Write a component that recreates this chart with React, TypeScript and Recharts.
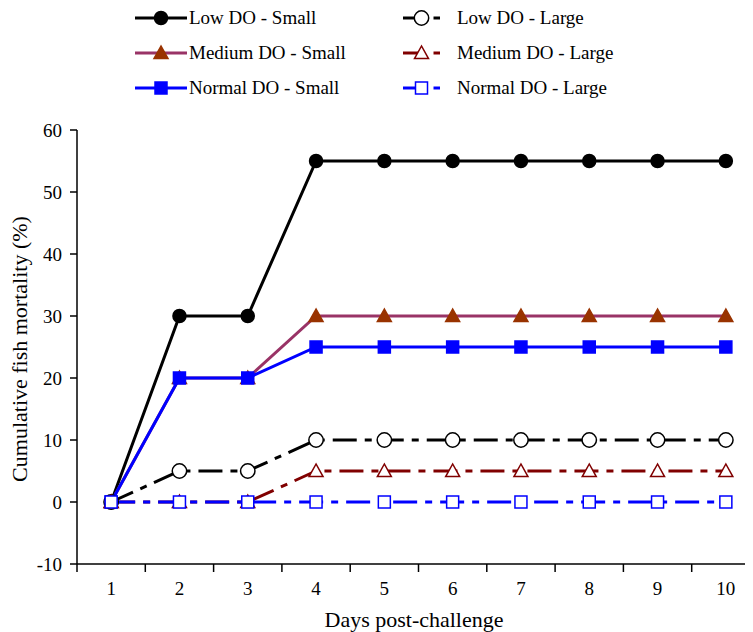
import { LineChart, Line, XAxis, YAxis, Label } from "recharts";

const days = [1, 2, 3, 4, 5, 6, 7, 8, 9, 10];
const lowSmall = [0, 30, 30, 55, 55, 55, 55, 55, 55, 55];
const mediumSmall = [0, 20, 20, 30, 30, 30, 30, 30, 30, 30];
const normalSmall = [0, 20, 20, 25, 25, 25, 25, 25, 25, 25];
const lowLarge = [0, 5, 5, 10, 10, 10, 10, 10, 10, 10];
const mediumLarge = [0, 0, 0, 5, 5, 5, 5, 5, 5, 5];
const normalLarge = [0, 0, 0, 0, 0, 0, 0, 0, 0, 0];
const yTicks = [-10, 0, 10, 20, 30, 40, 50, 60];

const data = days.map((d, i) => ({
    day: d,
    lowSmall: lowSmall[i],
    mediumSmall: mediumSmall[i],
    normalSmall: normalSmall[i],
    lowLarge: lowLarge[i],
    mediumLarge: mediumLarge[i],
    normalLarge: normalLarge[i],
}));

const FONT = "Liberation Serif";
const DASH = "24 8 7 8";
const AXIS_Y = 556;
const HALF_BAND = 683 / 10 / 2;

type Shape = "circle" | "triangle" | "square";

function markerShape(shape: Shape, cx: number, cy: number, fill: string, stroke: string, key?: string) {
    const open = fill === "#ffffff";
    if (shape === "circle") {
        return <circle key={key} cx={cx} cy={cy} r={open ? 7.2 : 6.5} fill={fill} stroke={stroke} strokeWidth={1.5} />;
    }
    if (shape === "triangle") {
        const s = 7;
        return (
            <polygon
                key={key}
                points={`${cx},${cy - s} ${cx - s},${cy + s * 0.8} ${cx + s},${cy + s * 0.8}`}
                fill={fill}
                stroke={stroke}
                strokeWidth={1.5}
            />
        );
    }
    return <rect key={key} x={cx - 6} y={cy - 6} width={12} height={12} fill={fill} stroke={stroke} strokeWidth={1.5} />;
}

function makeDot(shape: Shape, fill: string, stroke: string) {
    return (props: any) => {
        const { cx, cy, index } = props;
        if (cx == null || cy == null) return <g key={index} />;
        return markerShape(shape, cx, cy, fill, stroke, `d${index}`);
    };
}

const series = [
    { key: "lowSmall", name: "Low DO - Small", color: "#000000", shape: "circle" as Shape, fill: "#000000", stroke: "#000000", dash: undefined },
    { key: "mediumSmall", name: "Medium DO - Small", color: "#993366", shape: "triangle" as Shape, fill: "#993300", stroke: "#993300", dash: undefined },
    { key: "normalSmall", name: "Normal DO - Small", color: "#0000ff", shape: "square" as Shape, fill: "#0000ff", stroke: "#0000ff", dash: undefined },
    { key: "lowLarge", name: "Low DO - Large", color: "#000000", shape: "circle" as Shape, fill: "#ffffff", stroke: "#000000", dash: DASH },
    { key: "mediumLarge", name: "Medium DO - Large", color: "#800000", shape: "triangle" as Shape, fill: "#ffffff", stroke: "#800000", dash: DASH },
    { key: "normalLarge", name: "Normal DO - Large", color: "#0000ff", shape: "square" as Shape, fill: "#ffffff", stroke: "#0000ff", dash: DASH },
];

function XTick(props: any) {
    const { x, payload } = props;
    return (
        <g>
            <line x1={x - HALF_BAND} x2={x - HALF_BAND} y1={AXIS_Y} y2={AXIS_Y + 8} stroke="#000" strokeWidth={1.5} />
            <text x={x} y={AXIS_Y + 31} textAnchor="middle" fontSize={19} fontFamily={FONT} fill="#000">
                {payload.value}
            </text>
        </g>
    );
}

function LegendItem({ s, left, top, lineW, textLeft }: any) {
    const mid = lineW / 2;
    return (
        <div style={{ position: "absolute", left, top, height: 24 }}>
            <svg width={lineW + 4} height={24} style={{ position: "absolute", left: 0, top: 0 }}>
                {s.dash ? (
                    <>
                        <line x1={0} x2={mid} y1={12} y2={12} stroke={s.color} strokeWidth={3} />
                        <line x1={mid + 12} x2={lineW} y1={12} y2={12} stroke={s.color} strokeWidth={3} />
                    </>
                ) : (
                    <line x1={0} x2={lineW} y1={12} y2={12} stroke={s.color} strokeWidth={3} />
                )}
                {markerShape(s.shape, mid, 12, s.fill, s.stroke)}
            </svg>
            <span
                style={{
                    position: "absolute",
                    left: textLeft,
                    top: 0,
                    lineHeight: "24px",
                    fontFamily: FONT,
                    fontSize: 19,
                    whiteSpace: "nowrap",
                    color: "#000",
                }}
            >
                {s.name}
            </span>
        </div>
    );
}

export default function App() {
    const rows = [-2, 33, 68];
    return (
        <div style={{ position: "relative", width: 745, height: 624 }}>
            <style>{"html, body { overflow: hidden; }"}</style>
            {series.slice(0, 3).map((s, i) => (
                <LegendItem key={s.key} s={s} left={127} top={rows[i]} lineW={52} textLeft={54} />
            ))}
            {series.slice(3).map((s, i) => (
                <LegendItem key={s.key} s={s} left={395} top={rows[i]} lineW={37} textLeft={54} />
            ))}
            <div style={{ position: "absolute", left: 0, top: 0 }}>
                <LineChart
                    width={745}
                    height={624}
                    data={data}
                    margin={{ top: 122, right: -7, bottom: 0, left: 0 }}
                    style={{ fontFamily: FONT }}
                >
                    <XAxis
                        dataKey="day"
                        type="number"
                        domain={[0.5, 10.5]}
                        ticks={days}
                        interval={0}
                        height={68}
                        tickLine={false}
                        tick={<XTick />}
                        axisLine={{ stroke: "#000", strokeWidth: 1.5 }}
                    >
                        <Label
                            content={() => (
                                <text x={406} y={619} textAnchor="middle" fontSize={22} fontFamily={FONT} fill="#000">
                                    Days post-challenge
                                </text>
                            )}
                        />
                    </XAxis>
                    <YAxis
                        type="number"
                        domain={[-10, 60]}
                        ticks={yTicks}
                        interval={0}
                        width={69}
                        tickSize={7}
                        tickMargin={8}
                        tick={{ fill: "#000", fontSize: 19, fontFamily: FONT }}
                        tickLine={{ stroke: "#000", strokeWidth: 1.5 }}
                        axisLine={{ stroke: "#000", strokeWidth: 1.5 }}
                    >
                        <Label
                            content={() => (
                                <text
                                    x={19}
                                    y={341}
                                    transform="rotate(-90 19 341)"
                                    textAnchor="middle"
                                    fontSize={22}
                                    fontFamily={FONT}
                                    fill="#000"
                                >
                                    Cumulative fish mortality (%)
                                </text>
                            )}
                        />
                    </YAxis>
                    {series.map((s) => (
                        <Line
                            key={s.key}
                            dataKey={s.key}
                            name={s.name}
                            stroke={s.color}
                            strokeWidth={3}
                            strokeDasharray={s.dash}
                            dot={makeDot(s.shape, s.fill, s.stroke)}
                            activeDot={false}
                            isAnimationActive={false}
                        />
                    ))}
                </LineChart>
            </div>
        </div>
    );
}
